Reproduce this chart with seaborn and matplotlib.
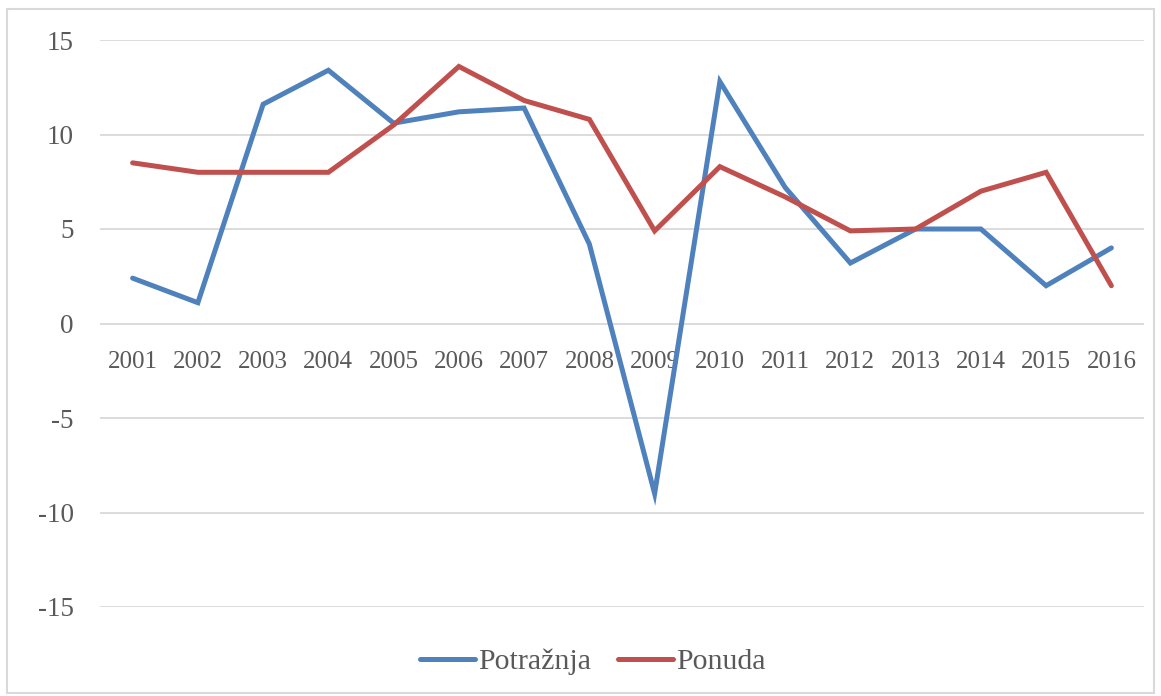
import matplotlib
matplotlib.use("Agg")
import matplotlib.pyplot as plt
import seaborn as sns
import pandas as pd
from matplotlib.patches import Rectangle
from matplotlib.lines import Line2D

years = ["2001", "2002", "2003", "2004", "2005", "2006", "2007", "2008",
         "2009", "2010", "2011", "2012", "2013", "2014", "2015", "2016"]
potraznja = [2.4, 1.1, 11.6, 13.4, 10.6, 11.2, 11.4, 4.2, -9.0, 12.8, 7.2, 3.2, 5.0, 5.0, 2.0, 4.0]
ponuda = [8.5, 8.0, 8.0, 8.0, 10.5, 13.6, 11.8, 10.8, 4.9, 8.3, 6.7, 4.9, 5.0, 7.0, 8.0, 2.0]
series_names = ["Potražnja", "Ponuda"]
colors = ["#4F81BD", "#C0504D"]
yticks = [-15, -10, -5, 0, 5, 10, 15]

sns.set_theme(style="white")
plt.rcParams["font.family"] = ["Liberation Serif", "DejaVu Serif"]

df = pd.DataFrame({
    "idx": list(range(len(years))) * 2,
    "value": potraznja + ponuda,
    "series": [series_names[0]] * len(years) + [series_names[1]] * len(years),
})

fig = plt.figure(figsize=(11.61, 6.96), dpi=100)
ax = fig.add_axes([100 / 1161, 89 / 696, 1044 / 1161, 567 / 696])

# border around figure
fig.patches.append(Rectangle((7 / 1161, 3 / 696), 1147 / 1161, 684 / 696,
                             transform=fig.transFigure, fill=False,
                             edgecolor="#D9D9D9", linewidth=1.5))

ax.set_ylim(-15, 15)
ax.set_xlim(-0.5, len(years) - 0.5)
ax.set_yticks(yticks)
ax.set_yticklabels([str(t) for t in yticks], fontsize=19.5, color="#595959")
ax.tick_params(axis="y", length=0, pad=19)
ax.set_xticks([])
for t in yticks:
    ax.axhline(t, color="#D9D9D9", linewidth=1.3, zorder=0)
for s in ax.spines.values():
    s.set_visible(False)

for i, y in enumerate(years):
    ax.text(i, -2.05, y, ha="center", va="center", fontsize=18,
            color="#595959", zorder=1)

sns.lineplot(data=df, x="idx", y="value", hue="series", palette=colors,
             linewidth=3.6, ax=ax, legend=False, zorder=3)
for line in ax.get_lines():
    line.set_solid_capstyle("round")
    line.set_solid_joinstyle("miter")

ax.set_xlabel("")
ax.set_ylabel("")

handles = [Line2D([0], [0], color=c, linewidth=3.6, solid_capstyle="round") for c in colors]
fig.legend(handles, series_names, loc="center", bbox_to_anchor=(593 / 1161, 1 - 662 / 696),
           ncol=2, frameon=False, fontsize=21.5, handlelength=1.85, handletextpad=0.1,
           columnspacing=0.9, labelcolor="#595959")

fig.savefig("out.png", dpi=100)
